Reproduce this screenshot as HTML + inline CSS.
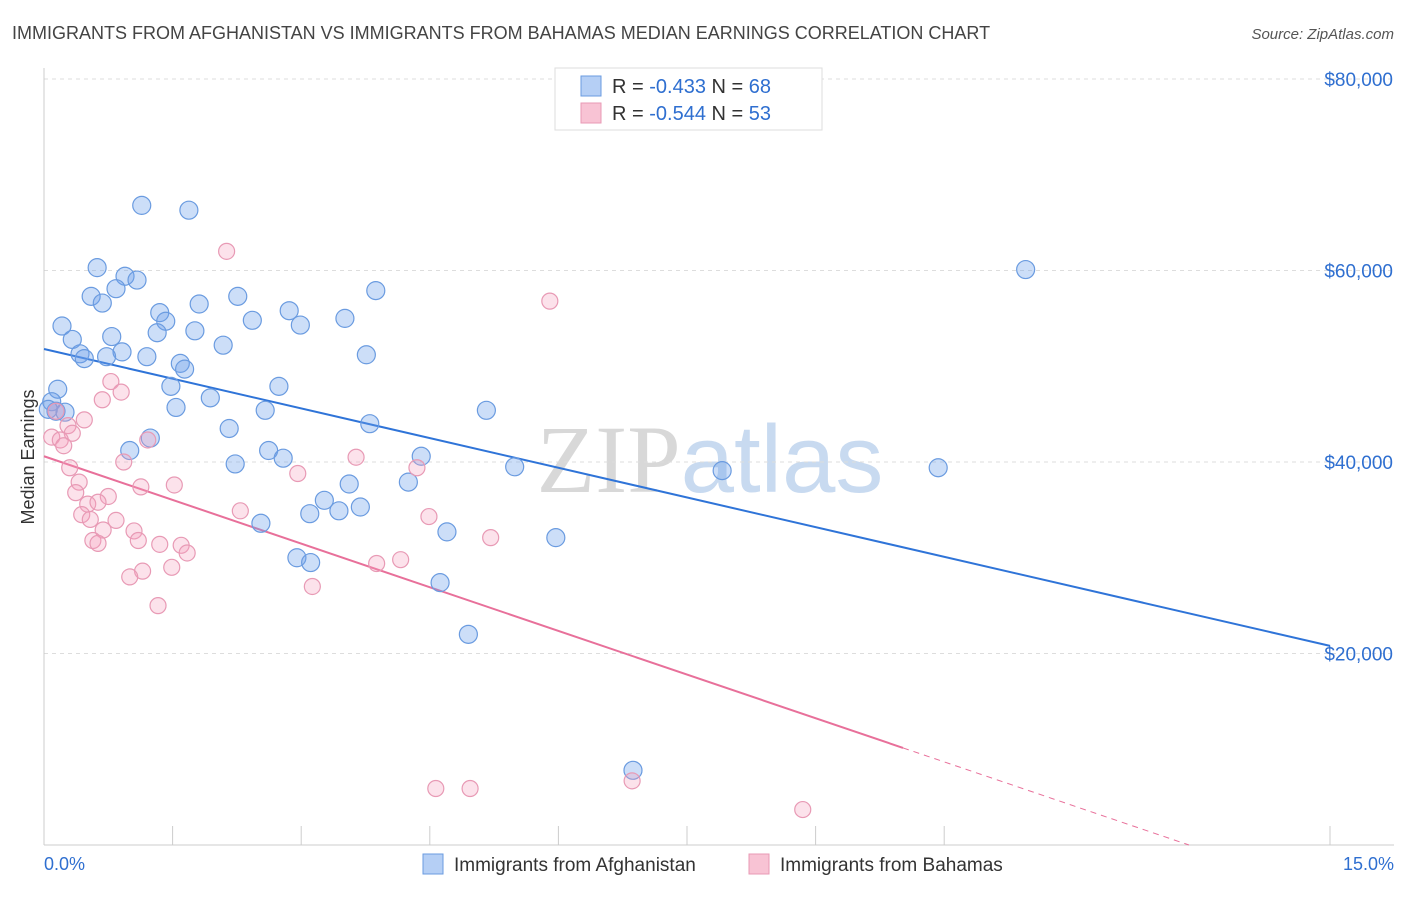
<!DOCTYPE html>
<html><head><meta charset="utf-8"><style>
body{margin:0;background:#fff;font-family:"Liberation Sans",sans-serif;}
svg text{font-family:"Liberation Sans",sans-serif;}
</style></head><body>
<svg id="chart" width="1406" height="892" xmlns="http://www.w3.org/2000/svg">
<text x="12" y="39" font-size="18" fill="#444">IMMIGRANTS FROM AFGHANISTAN VS IMMIGRANTS FROM BAHAMAS MEDIAN EARNINGS CORRELATION CHART</text>
<text x="1394" y="39" font-size="15" fill="#555" text-anchor="end" font-style="italic">Source: ZipAtlas.com</text>
<text x="710" y="492" font-size="96" text-anchor="middle"><tspan fill="#d8d8d8" font-family="Liberation Serif">ZIP</tspan><tspan fill="#c8daf0">atlas</tspan></text>
<g id="grid"></g><g id="axes"></g><g id="lines"></g><g id="pts"></g>
<text transform="translate(34,457) rotate(-90)" font-size="18" fill="#333" text-anchor="middle">Median Earnings</text>
<g>
<rect x="555" y="68" width="267" height="62" fill="#fff" stroke="#ddd"/>
<rect x="581" y="76" width="20" height="20" fill="#b5cff5" stroke="#6a9be0"/>
<rect x="581" y="103" width="20" height="20" fill="#f8c3d4" stroke="#e89ab5"/>
<text x="612" y="93" font-size="20" fill="#333">R = <tspan fill="#2f6fd0">-0.433</tspan>   N = <tspan fill="#2f6fd0">68</tspan></text>
<text x="612" y="120" font-size="20" fill="#333">R = <tspan fill="#2f6fd0">-0.544</tspan>   N = <tspan fill="#2f6fd0">53</tspan></text>
</g>
<g>
<rect x="423" y="854" width="20" height="20" fill="#b5cff5" stroke="#6a9be0"/>
<text x="454" y="871" font-size="19" fill="#333">Immigrants from Afghanistan</text>
<rect x="749" y="854" width="20" height="20" fill="#f8c3d4" stroke="#e89ab5"/>
<text x="780" y="871" font-size="19" fill="#333">Immigrants from Bahamas</text>
</g>
<text x="44" y="870" font-size="18" fill="#2f6fd0">0.0%</text>
<text x="1394" y="870" font-size="18" fill="#2f6fd0" text-anchor="end">15.0%</text>
</svg>
<script>
const yTicks=[20000,40000,60000,80000];
const yTickLabels=["$20,000","$40,000","$60,000","$80,000"];
const xTicks=[0,1.5,3,4.5,6,7.5,9,10.5,15];
const blueX=[1.14,1.69,0.62,0.945,1.085,0.84,0.55,2.26,0.68,1.81,1.35,2.86,3.51,3.87,1.42,2.43,2.99,0.21,1.32,1.76,0.79,0.33,2.09,0.91,0.42,0.47,0.73,1.20,3.76,1.59,1.64,1.48,2.74,0.16,0.09,0.14,0.245,1.94,1.54,2.58,5.16,3.80,2.16,1.24,1.00,2.62,2.79,4.40,2.23,5.49,7.91,10.43,3.56,4.25,3.27,3.69,3.44,3.10,4.70,2.53,5.97,2.95,3.11,4.62,4.95,6.87,11.45,0.05];
const blueY=[66.8,66.3,60.3,59.4,59.0,58.1,57.3,57.3,56.6,56.5,55.6,55.8,55.0,57.9,54.7,54.8,54.3,54.2,53.5,53.7,53.1,52.8,52.2,51.5,51.3,50.8,51.0,51.0,51.2,50.3,49.7,47.9,47.9,47.6,46.3,45.3,45.2,46.7,45.7,45.4,45.4,44.0,43.5,42.5,41.2,41.2,40.4,40.6,39.8,39.5,39.1,39.4,37.7,37.9,36.0,35.3,34.9,34.6,32.7,33.6,32.1,30.0,29.5,27.4,22.0,7.8,60.1,45.5];
const pinkX=[2.13,5.90,0.78,0.90,0.68,0.14,0.47,0.28,0.33,0.09,0.19,1.21,0.23,3.64,0.93,0.30,4.35,2.96,0.41,1.13,1.52,0.37,0.75,0.51,0.63,2.29,0.44,0.54,0.84,4.49,0.69,1.05,1.10,0.57,0.63,1.35,1.60,5.21,1.67,4.16,3.88,1.15,1.49,1.00,3.13,1.33,4.57,4.97,6.86,8.85];
const pinkY=[62.0,56.8,48.4,47.3,46.5,45.3,44.4,43.8,43.0,42.6,42.3,42.3,41.7,40.5,40.0,39.4,39.4,38.8,37.9,37.4,37.6,36.8,36.4,35.6,35.8,34.9,34.5,34.0,33.9,34.3,32.9,32.8,31.8,31.8,31.5,31.4,31.3,32.1,30.5,29.8,29.4,28.6,29.0,28.0,27.0,25.0,5.9,5.9,6.7,3.7];
const blueFit=[51.8,-2.067]; // intercept (k$), slope per %
const pinkFit=[40.6,-3.04];
const pinkSolidEnd=10.02;

const NS="http://www.w3.org/2000/svg";
const X0=44,X1=1330,YB=845,PX=(X1-X0)/15,PY=(845-79)/80000;
const sx=v=>X0+v*PX, sy=v=>YB-v*PY;
function mk(tag,attrs,parent){const e=document.createElementNS(NS,tag);for(const k in attrs)e.setAttribute(k,attrs[k]);document.getElementById(parent).appendChild(e);return e;}
yTicks.forEach((t,i)=>{
  const g=mk('line',{x1:44,x2:1394,y1:sy(t),y2:sy(t),stroke:'#ddd','stroke-dasharray':'4,4'},'grid');
  
  
  const l=mk('text',{x:1393,y:sy(t)+7,'font-size':19,fill:'#2f6fd0','text-anchor':'end'},'axes');
  l.textContent=yTickLabels[i];
  
  
});
const topGrid=mk('line',{x1:44,x2:1394,y1:79,y2:79,stroke:'#ddd','stroke-dasharray':'4,4'},'grid');


const ax=mk('line',{x1:44,x2:1394,y1:845,y2:845,stroke:'#ccc'},'axes');


const ay=mk('line',{x1:44,x2:44,y1:68,y2:845,stroke:'#ccc'},'axes');


xTicks.forEach(t=>{
  const e=mk('line',{x1:sx(t),x2:sx(t),y1:826,y2:845,stroke:'#ccc'},'axes');
  
  
});
blueX.forEach((x,i)=>{
  const c=mk('circle',{cx:sx(x),cy:sy(blueY[i]*1000),r:9,fill:'rgba(110,160,235,0.35)',stroke:'#6a9be0','stroke-width':1.2},'pts');
  
  
});
pinkX.forEach((x,i)=>{
  const c=mk('circle',{cx:sx(x),cy:sy(pinkY[i]*1000),r:8,fill:'rgba(245,160,190,0.3)',stroke:'#e89ab5','stroke-width':1.2},'pts');
  
  
});
const f=(fit,x)=>(fit[0]+fit[1]*x)*1000;
const bl=mk('line',{x1:sx(0),y1:sy(f(blueFit,0)),x2:sx(15),y2:sy(f(blueFit,15)),stroke:'#2f74d8','stroke-width':2},'lines');


const pl=mk('line',{x1:sx(0),y1:sy(f(pinkFit,0)),x2:sx(pinkSolidEnd),y2:sy(f(pinkFit,pinkSolidEnd)),stroke:'#e8709a','stroke-width':2},'lines');


const zx=-pinkFit[0]/pinkFit[1];
const pd=mk('line',{x1:sx(pinkSolidEnd),y1:sy(f(pinkFit,pinkSolidEnd)),x2:sx(zx),y2:sy(0),stroke:'#e8709a','stroke-width':1,'stroke-dasharray':'6,5'},'lines');


</script>
</body></html>
